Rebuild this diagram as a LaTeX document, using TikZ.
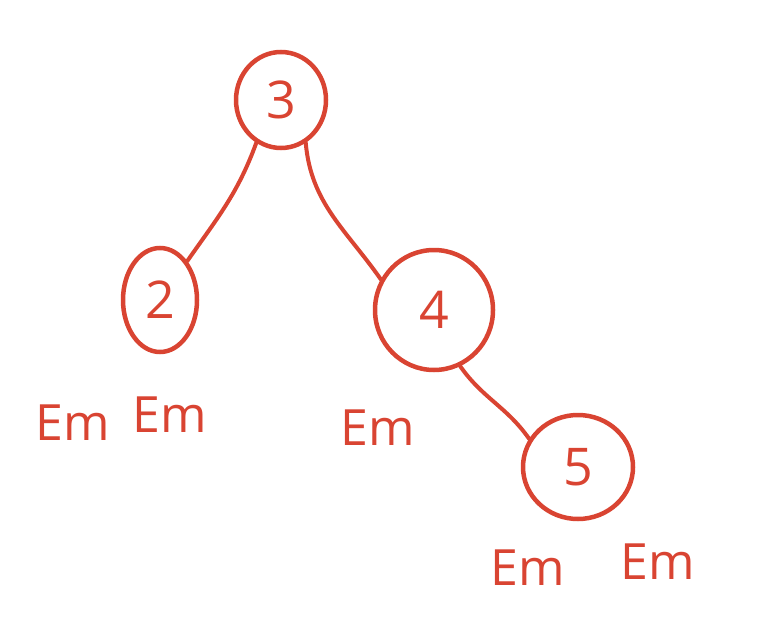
\documentclass[tikz,border=0pt]{standalone}
\usepackage{fontspec}
\setmainfont{Open Sans}
\usetikzlibrary{shapes.geometric}
\definecolor{ink}{RGB}{217,68,50}
\begin{document}
\begin{tikzpicture}[x=1pt,y=-1pt,
  key/.style={draw=ink,ellipse,line width=4.5pt,inner sep=0pt,text=ink,
    font=\fontsize{52}{52}\selectfont},
  link/.style={draw=ink,line width=4pt,line cap=round},
  leaf/.style={text=ink,font=\fontsize{50}{50}\selectfont}]
\useasboundingbox (0,0) rectangle (773,626);
% tree keys
\node[key,minimum width=90pt,minimum height=96pt] (n3) at (281,100) {3};
\node[key,minimum width=74pt,minimum height=104pt] (n2) at (160,300) {2};
\node[key,minimum width=118pt,minimum height=120pt] (n4) at (434,310) {4};
\node[key,minimum width=110pt,minimum height=104pt] (n5) at (578,467) {5};
% empty children
\node[leaf] (e1) at (73,423) {Em};
\node[leaf] (e2) at (170,415) {Em};
\node[leaf] (e3) at (378,428) {Em};
\node[leaf] (e4) at (528,568) {Em};
\node[leaf] (e5) at (658,562) {Em};
% branches
\draw[link] (n3.240) to[out=250,in=55] (n2.55);
\draw[link] (n3.300) to[out=275,in=125] (n4.150);
\draw[link] (n4.295) to[out=305,in=125] (n5.150);
\end{tikzpicture}
\end{document}
